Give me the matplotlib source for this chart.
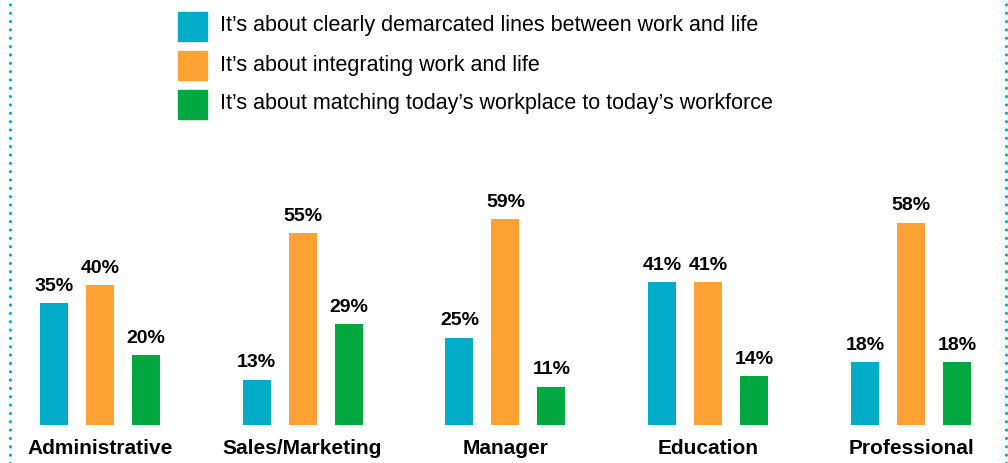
import numpy as np
import matplotlib
matplotlib.use("Agg")
import matplotlib.pyplot as plt
from matplotlib.patches import Rectangle
from matplotlib.lines import Line2D

plt.rcParams['font.family'] = ['Liberation Sans', 'DejaVu Sans']

# data
categories = ['Administrative', 'Sales/Marketing', 'Manager', 'Education', 'Professional']
series_names = ["It\u2019s about clearly demarcated lines between work and life",
                "It\u2019s about integrating work and life",
                "It\u2019s about matching today\u2019s workplace to today\u2019s workforce"]
lines_vals = [35, 13, 25, 41, 18]
integrating_vals = [40, 55, 59, 41, 58]
matching_vals = [20, 29, 11, 14, 18]
colors = ['#00acc8', '#fea234', '#00a83f']

W, H = 1008, 463
fig = plt.figure(figsize=(W / 100, H / 100), dpi=100)
ax = fig.add_axes([0, 38 / H, 1, 300 / H])

x = np.arange(len(categories))
width = 0.138
offset = 0.227
all_vals = [lines_vals, integrating_vals, matching_vals]
for i, vals in enumerate(all_vals):
    bars = ax.bar(x + (i - 1) * offset, vals, width, color=colors[i])
    for b, v in zip(bars, vals):
        ax.annotate(f'{v}%', (b.get_x() + b.get_width() / 2, v),
                    xytext=(0, 6), textcoords='offset points',
                    ha='center', va='bottom', fontsize=14, fontweight='bold')

ax.set_xlim(-0.492, 4.478)
ax.set_ylim(0, 86)
ax.set_xticks(x, categories, fontsize=15, fontweight='bold')
ax.tick_params(axis='x', length=0, pad=10)
ax.set_yticks([])
for s in ax.spines.values():
    s.set_visible(False)
ax.patch.set_alpha(0)

# legend, drawn by hand at the top
for i, name in enumerate(series_names):
    ytop = [12, 51, 90][i]
    fig.add_artist(Rectangle((178 / W, 1 - (ytop + 29) / H), 29 / W, 29 / H,
                             transform=fig.transFigure, color=colors[i]))
    fig.text(220 / W, 1 - (ytop + 14) / H, name, fontsize=15.5, va='center', ha='left')

# dotted frame edges
for xp in [10, 1006]:
    fig.add_artist(Line2D([xp / W, xp / W], [0, 1], transform=fig.transFigure,
                          color='#00acc8', linestyle=(0, (0.01, 2.6)), linewidth=2.3,
                          dash_capstyle='round'))

fig.savefig('out.png', dpi=100)
